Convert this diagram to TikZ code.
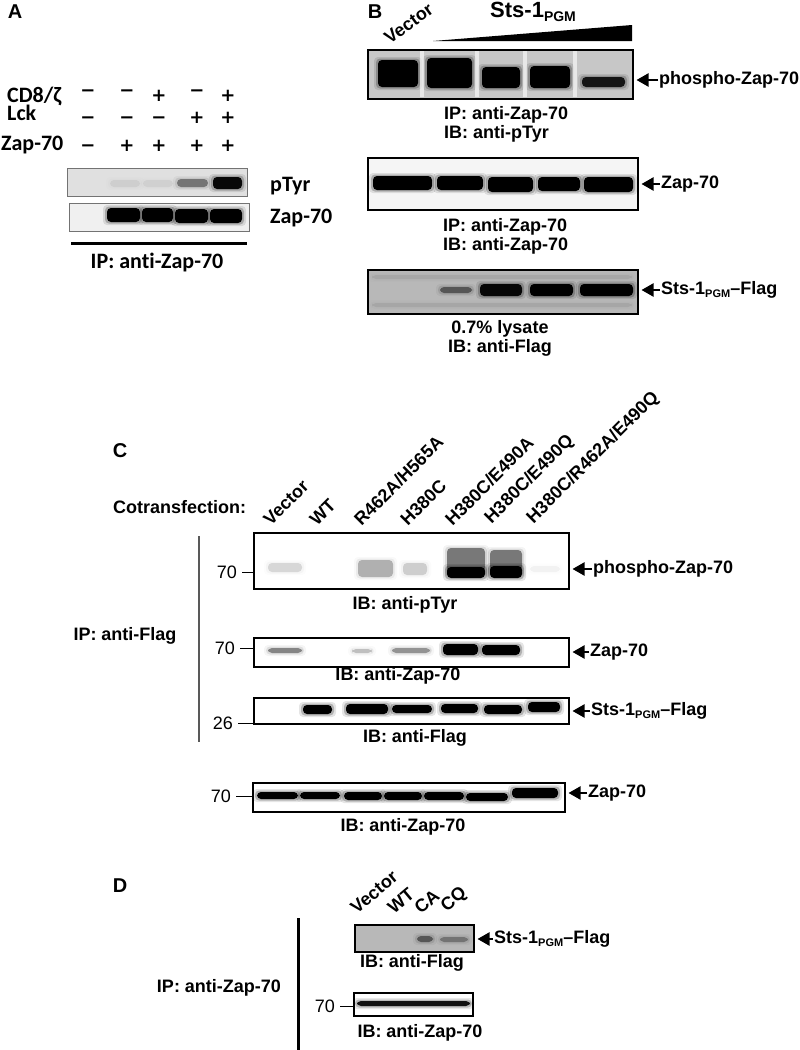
\documentclass[tikz,border=0pt]{standalone}
\usepackage{fontspec}
\setmainfont{Liberation Sans}
\newfontfamily\calfont[Ligatures=NoCommon]{Carlito}
\newfontfamily\signfont{DejaVu Sans}
\usetikzlibrary{arrows.meta,positioning}
\newcommand{\pgmsub}[1][11]{\raisebox{-0.35ex}{\fontsize{#1}{#1}\selectfont PGM}}

\begin{document}
\begin{tikzpicture}[x=1pt, y=-1pt,
  panel/.style={font=\bfseries\fontsize{20}{22}\selectfont, inner sep=0pt},
  lbl/.style={font=\bfseries\fontsize{18}{19}\selectfont, inner sep=1pt},
  calib/.style={font=\calfont\bfseries\fontsize{22}{24}\selectfont, inner sep=0pt},
  sign/.style={font=\signfont\bfseries\fontsize{18}{18}\selectfont, inner sep=0pt, anchor=base},
  kda/.style={font=\fontsize{18}{18}\selectfont, inner sep=1pt, anchor=east},
  blot/.style={draw=black, line width=1.5pt, anchor=north west, inner sep=0pt},
  grayblot/.style={blot, draw=black!55, line width=1.2pt},
  lane/.style={font=\bfseries\fontsize{18}{18}\selectfont, inner sep=0pt, anchor=south west},
  pointer/.style={-{Triangle[length=12pt,width=13pt]}, line width=2.2pt, shorten >=3pt},
  tick/.style={line width=1pt, shorten <=4pt},
  band/.style={fill=black, rounded corners=4pt}]

  \useasboundingbox (0,0) rectangle (800,1050);

  % A
  \node[panel] (pa) at (15,12) {A};
  \node[calib, anchor=base west] (rcd) at (7,102) {CD8/ζ};
  \node[calib, anchor=base west] (rlck) at (7,120) {Lck};
  \node[calib, anchor=base west] (rzap) at (1,150) {Zap-70};
  \foreach \x/\s/\y [count=\i] in {88/−/96, 127/−/96, 159/+/101, 197/−/96, 228/+/101}
    \node[sign] (sa\i) at (\x,\y) {\s};
  \foreach \x/\s [count=\i] in {88/−, 127/−, 159/−, 197/+, 228/+}
    \node[sign] (sb\i) at (\x,123) {\s};
  \foreach \x/\s [count=\i] in {88/−, 127/+, 159/+, 197/+, 228/+}
    \node[sign] (sz\i) at (\x,151) {\s};
  \node[grayblot, fill=black!12, minimum width=180pt, minimum height=28pt] (apy) at (67,168) {};
  \node[grayblot, fill=black!6, minimum width=180pt, minimum height=28pt] (azp) at (69,203) {};
  \node[calib, anchor=base west] (lpy) at (270,191) {pTyr};
  \node[calib, anchor=base west] (lzp) at (270,223) {Zap-70};
  \draw[line width=3pt] (71,243) -- (247,243);
  \node[calib, anchor=base] (aip) at (157,268) {IP: anti-Zap-70};

  % B
  \node[panel] (pb) at (375,12) {B};
  \node[lane, rotate=36] (lbv) at (390,45) {Vector};
  \node[anchor=base west, inner sep=0pt, font=\bfseries\fontsize{22}{22}\selectfont] (sts) at (490,17) {Sts-1\pgmsub[14]};
  \fill (433,41) -- (632,41) -- (632,25) -- cycle;
  \node[blot, fill=black!22, minimum width=265pt, minimum height=49pt] (b1) at (367,49) {};
  \node[blot, fill=black!4, minimum width=270pt, minimum height=52pt] (b2) at (367,157) {};
  \node[blot, fill=black!28, minimum width=270pt, minimum height=44pt] (b3) at (367,269) {};

  % C
  \node[panel] (pc) at (120,451) {C};
  \node[lbl, anchor=west] (cot) at (112,507) {Cotransfection:};
  \foreach \x/\t [count=\i] in {271/Vector, 317/WT, 362/{R462A/H565A}, 408/H380C, 453/{H380C/E490A}, 494/{H380C/E490Q}, 536/{H380C/R462A/E490Q}}
    \node[lane, rotate=45] (lc\i) at (\x,527) {\t};
  \node[blot, fill=white, minimum width=315pt, minimum height=56pt] (c1) at (253,532) {};
  \node[blot, fill=white, minimum width=315pt, minimum height=29pt] (c2) at (253,637) {};
  \node[blot, fill=white, minimum width=315pt, minimum height=26pt] (c3) at (253,697) {};
  \node[blot, fill=white, minimum width=312pt, minimum height=29pt] (c4) at (252,782) {};

  % D
  \node[panel] (pd) at (120,886) {D};
  \foreach \x/\t [count=\i] in {357/Vector, 394/WT, 421/CA, 449/CQ}
    \node[lane, rotate=40] (ld\i) at (\x,915) {\t};
  \node[blot, fill=black!28, minimum width=119pt, minimum height=27pt] (d1) at (354,924) {};
  \node[blot, fill=white, minimum width=119pt, minimum height=23pt] (d2) at (353,992) {};

  % bands
  \foreach \xa/\xb/\ya/\yb/\op [evaluate=\op as \oa using 0.1*\op, evaluate=\op as \ob using 0.22*\op] in {
      110/140/180/187/0.06, 143/173/180/187/0.05, 177/208/179/187/0.4, 213/242/177/189/0.95,
      107/140/208/222/1, 142/173/208/222/1, 175/208/209/223/1, 210/242/209/223/1,
      378/418/60/87/1, 427/472/58/88/1, 482/520/67/88/1, 530/570/66/88/1, 582/625/77/87/0.85,
      373/432/176/190/1, 437/483/176/190/1, 488/533/177/192/1, 538/580/177/191/1, 584/633/177/192/1,
      372/632/275/279/0.07, 372/632/303/307/0.07, 440/472/287/293/0.45,
      480/522/284/296/0.95, 530/573/284/296/1, 580/633/284/296/1,
      268/302/563/572/0.12, 358/393/560/577/0.25, 403/427/563/575/0.15,
      447/485/548/575/0.45, 447/485/567/578/1, 490/522/550/575/0.45, 490/522/566/578/1, 530/560/566/572/0.04,
      268/302/648/653/0.4, 352/372/649/653/0.2, 392/430/648/653/0.35, 443/478/644/655/1, 482/520/645/655/1,
      303/332/705/714/1, 346/388/704/714/1, 392/432/705/713/1, 441/478/704/713/1, 484/522/705/714/1, 528/560/702/712/1,
      257/298/792/799/1, 300/340/792/799/1, 344/382/792/800/1, 384/422/792/800/1, 424/464/792/800/1,
      466/508/793/801/1, 512/558/788/798/1,
      417/433/936/942/0.45, 440/468/937/942/0.3, 357/470/1001/1006/0.9} {
    \fill[band, opacity=\oa] ({\xa-4},{\ya-3}) rectangle ({\xb+4},{\yb+3});
    \fill[band, opacity=\ob] ({\xa-2},{\ya-1.5}) rectangle ({\xb+2},{\yb+1.5});
    \fill[band, opacity=\op] (\xa,\ya) rectangle (\xb,\yb);
  }
  \foreach \x in {422,477,525,575}
    \fill[white, opacity=0.6] ({\x-2},51) rectangle ({\x+2},97);

  % labels and arrows
  \node[lbl, anchor=west] (pb1) at (658,80) {phospho-Zap-70};
  \node[lbl, anchor=west] (pb2) at (660,184) {Zap-70};
  \node[lbl, anchor=west] (pb3) at (660,290) {Sts-1\pgmsub–Flag};
  \node[lbl, anchor=west] (pc1) at (592,569) {phospho-Zap-70};
  \node[lbl, anchor=west] (pc2) at (589,652) {Zap-70};
  \node[lbl, anchor=west] (pc3) at (590,711) {Sts-1\pgmsub–Flag};
  \node[lbl, anchor=west] (pc4) at (587,793) {Zap-70};
  \node[lbl, anchor=west] (pd1) at (493,939) {Sts-1\pgmsub–Flag};
  \draw[pointer] (pb1.west) -- (pb1.west -| b1.east);
  \draw[pointer] (pb2.west) -- (pb2.west -| b2.east);
  \draw[pointer] (pb3.west) -- (pb3.west -| b3.east);
  \draw[pointer] (pc1.west) -- (pc1.west -| c1.east);
  \draw[pointer] (pc2.west) -- (pc2.west -| c2.east);
  \draw[pointer] (pc3.west) -- (pc3.west -| c3.east);
  \draw[pointer] (pc4.west) -- (pc4.west -| c4.east);
  \draw[pointer] (pd1.west) -- (pd1.west -| d1.east);

  \node[lbl, anchor=west, align=left] (tb1) at (443,124) {IP: anti-Zap-70\\IB: anti-pTyr};
  \node[lbl, anchor=west, align=left] (tb2) at (442,236.5) {IP: anti-Zap-70\\IB: anti-Zap-70};
  \node[lbl, align=center] (tb3) at (500,338) {0.7\% lysate\\IB: anti-Flag};
  \node[lbl] (tc1) at (405,605) {IB: anti-pTyr};
  \node[lbl] (tc2) at (398,676) {IB: anti-Zap-70};
  \node[lbl] (tc3) at (415,738) {IB: anti-Flag};
  \node[lbl] (tc4) at (403,827) {IB: anti-Zap-70};
  \node[lbl] (td1) at (412,963) {IB: anti-Flag};
  \node[lbl] (td2) at (420,1033) {IB: anti-Zap-70};

  % markers and brackets
  \node[kda] (m1) at (238,572) {70};
  \node[kda] (m2) at (236,648) {70};
  \node[kda] (m3) at (234,723) {26};
  \node[kda] (m4) at (232,796) {70};
  \node[kda] (m5) at (336,1006) {70};
  \draw[tick] (m1.east) -- (m1.east -| c1.west);
  \draw[tick] (m2.east) -- (m2.east -| c2.west);
  \draw[tick] (m3.east) -- (m3.east -| c3.west);
  \draw[tick] (m4.east) -- (m4.east -| c4.west);
  \draw[tick] (m5.east) -- (m5.east -| d2.west);
  \draw[line width=2pt, black!65] (199,536) -- (199,742);
  \node[lbl] (ipc) at (125,636) {IP: anti-Flag};
  \draw[line width=3pt] (298,918) -- (298,1050);
  \node[lbl] (ipd) at (219,988) {IP: anti-Zap-70};
\end{tikzpicture}
\end{document}
